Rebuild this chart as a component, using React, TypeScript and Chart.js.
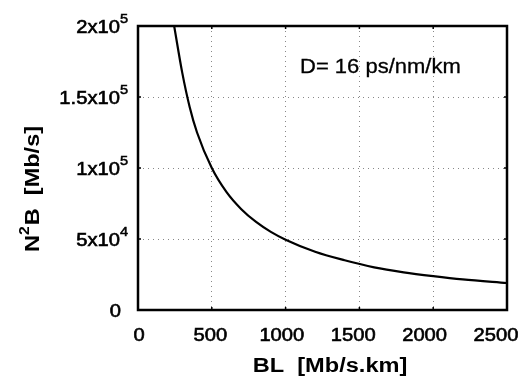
import React, { useEffect, useRef } from "react";
import { Chart, registerables } from "chart.js";

Chart.register(...registerables);

const bl = [245, 300, 350, 400, 500, 600, 700, 800, 900, 1000, 1200, 1400, 1600, 1800, 2000, 2200, 2500];
const n2b = [200000, 167000, 143000, 125000, 100000, 83000, 71000, 62000, 55000, 49500, 41000, 35000, 30000, 26500, 23800, 21500, 19000];

const xTicks = [0, 500, 1000, 1500, 2000, 2500];
const yTickValues = [0, 50000, 100000, 150000, 200000];
const yTickMant = ["0", "5x10", "1x10", "1.5x10", "2x10"];
const yTickExp = ["", "4", "5", "5", "5"];

const annotation = "D= 16 ps/nm/km";
const xTitle = "BL  [Mb/s.km]";

const FONT = "'Liberation Sans', Arial, sans-serif";

function heavyText(ctx: any, s: string, x: number, y: number, w: number) {
  ctx.fillText(s, x, y);
  if (w > 0) {
    ctx.lineWidth = w;
    ctx.strokeStyle = "#000";
    ctx.strokeText(s, x, y);
  }
}

const textPlugin = {
  id: "customText",
  beforeDraw(chart: any) {
    const ctx = chart.ctx;
    ctx.save();
    ctx.fillStyle = "#fff";
    ctx.fillRect(0, 0, chart.width, chart.height);
    ctx.restore();
  },
  afterDraw(chart: any) {
    const ctx = chart.ctx;
    const xs = chart.scales.x;
    const ys = chart.scales.y;
    const a = chart.chartArea;
    ctx.save();
    // frame
    ctx.strokeStyle = "#000";
    ctx.lineWidth = 2.5;
    ctx.strokeRect(a.left, a.top, a.right - a.left, a.bottom - a.top);
    // small inner tick marks
    ctx.lineWidth = 1.5;
    xTicks.forEach((v) => {
      const x = xs.getPixelForValue(v);
      ctx.beginPath();
      ctx.moveTo(x, a.bottom);
      ctx.lineTo(x, a.bottom - 3);
      ctx.moveTo(x, a.top);
      ctx.lineTo(x, a.top + 3);
      ctx.stroke();
    });
    yTickValues.forEach((v) => {
      const y = ys.getPixelForValue(v);
      ctx.beginPath();
      ctx.moveTo(a.left, y);
      ctx.lineTo(a.left + 3, y);
      ctx.moveTo(a.right, y);
      ctx.lineTo(a.right - 3, y);
      ctx.stroke();
    });

    ctx.fillStyle = "#000";
    // x tick labels
    ctx.textBaseline = "middle";
    ctx.textAlign = "center";
    xTicks.forEach((v) => {
      const x = xs.getPixelForValue(v) - (v / 2500) * 12 + 1;
      ctx.save();
      ctx.translate(x, a.bottom + 26);
      ctx.scale(1.12, 1);
      ctx.font = `18px ${FONT}`;
      heavyText(ctx, String(v), 0, 0, 0.6);
      ctx.restore();
    });
    // y tick labels with superscript
    yTickValues.forEach((v, i) => {
      const y = ys.getPixelForValue(v);
      const rightEdge = i === 0 ? a.left - 17 : a.left - 10;
      ctx.save();
      ctx.translate(rightEdge, y);
      ctx.scale(1.12, 1);
      ctx.textAlign = "right";
      ctx.textBaseline = "alphabetic";
      ctx.font = `13px ${FONT}`;
      const expW = yTickExp[i] ? ctx.measureText(yTickExp[i]).width : 0;
      if (yTickExp[i]) heavyText(ctx, yTickExp[i], 0, -3, 0.5);
      ctx.font = `18px ${FONT}`;
      heavyText(ctx, yTickMant[i], -expW, 7, 0.6);
      ctx.restore();
    });
    // annotation
    ctx.save();
    ctx.translate(300, 67);
    ctx.scale(1.1, 1);
    ctx.textAlign = "left";
    ctx.textBaseline = "middle";
    ctx.font = `20px ${FONT}`;
    heavyText(ctx, annotation, 0, 0, 0.3);
    ctx.restore();
    // x title
    ctx.save();
    ctx.translate(330, 366);
    ctx.scale(1.18, 1);
    ctx.textAlign = "center";
    ctx.textBaseline = "middle";
    ctx.font = `bold 20px ${FONT}`;
    ctx.fillText(xTitle, 0, 0);
    ctx.restore();
    // y title: N^2B [Mb/s]
    ctx.save();
    ctx.translate(39, 189);
    ctx.rotate(-Math.PI / 2);
    ctx.scale(1.12, 1);
    ctx.textBaseline = "alphabetic";
    ctx.textAlign = "left";
    const big = `bold 21px ${FONT}`;
    const small = `bold 14px ${FONT}`;
    ctx.font = big;
    const wN = ctx.measureText("N").width;
    const wRest = ctx.measureText("B  [Mb/s]").width;
    ctx.font = small;
    const w2 = ctx.measureText("2").width;
    const total = wN + w2 + 1 + wRest;
    let x0 = -total / 2;
    ctx.font = big;
    ctx.fillText("N", x0, 0);
    x0 += wN;
    ctx.font = small;
    ctx.fillText("2", x0, -10);
    x0 += w2 + 1;
    ctx.font = big;
    ctx.fillText("B  [Mb/s]", x0, 0);
    ctx.restore();

    ctx.restore();
  },
};

export default function App() {
  const ref = useRef<HTMLCanvasElement>(null);
  useEffect(() => {
    if (!ref.current) return;
    const chart = new Chart(ref.current, {
      type: "scatter",
      data: {
        datasets: [
          {
            data: bl.map((x, i) => ({ x, y: n2b[i] })),
            showLine: true,
            borderColor: "#000",
            borderWidth: 2.2,
            pointRadius: 0,
            cubicInterpolationMode: "monotone",
            fill: false,
          },
        ],
      },
      options: {
        animation: false,
        responsive: false,
        devicePixelRatio: 1,
        layout: { padding: { left: 0, top: 26, right: 15, bottom: 0 } },
        plugins: { legend: { display: false }, tooltip: { enabled: false } },
        scales: {
          x: {
            type: "linear",
            min: 0,
            max: 2500,
            ticks: { stepSize: 500, display: false },
            grid: { color: "#888", lineWidth: 1, drawTicks: false },
            border: { display: false, dash: [1, 4] },
            afterFit: (s: any) => {
              s.height = 73;
            },
          },
          y: {
            type: "linear",
            min: 0,
            max: 200000,
            ticks: { stepSize: 50000, display: false },
            grid: { color: "#888", lineWidth: 1, drawTicks: false },
            border: { display: false, dash: [1, 4] },
            afterFit: (s: any) => {
              s.width = 138;
            },
          },
        },
      },
      plugins: [textPlugin],
    });
    return () => chart.destroy();
  }, []);
  return (
    <div style={{ position: "fixed", left: 0, top: 0, width: 522, height: 383, background: "#fff" }}>
      <canvas ref={ref} width={522} height={383} />
    </div>
  );
}
